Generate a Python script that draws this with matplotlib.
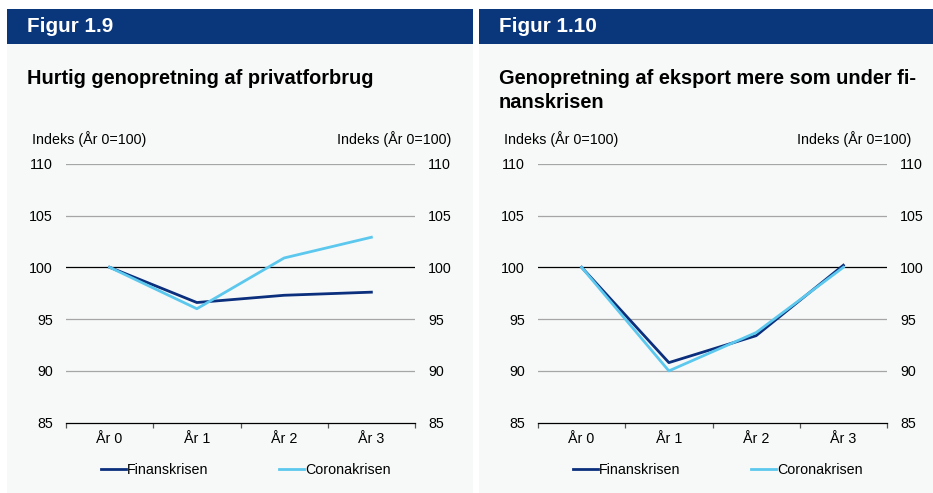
import matplotlib
matplotlib.use("Agg")
import matplotlib.pyplot as plt
from matplotlib.patches import Rectangle

plt.rcParams['font.family'] = ['Liberation Sans', 'DejaVu Sans']

W, H = 933, 493

# data
categories = ["År 0", "År 1", "År 2", "År 3"]
forbrug_finans = [100, 96.6, 97.3, 97.6]
forbrug_corona = [100, 96.0, 100.9, 102.9]
eksport_finans = [100, 90.8, 93.4, 100.2]
eksport_corona = [100, 90.0, 93.7, 100.0]
yticks = [85, 90, 95, 100, 105, 110]

DARK = "#0b2f7c"
LIGHT = "#5cc8ee"
HEADER = "#0a367c"
BG = "#f7f9f9"
GRID = "#a6a6a6"
FS = 10.3


def fx(px):
    return px / W


def fy(py):
    return 1 - py / H


fig = plt.figure(figsize=(W / 100, H / 100), dpi=100)
fig.patch.set_facecolor("white")


def panel(x0, x1, fignum, title_lines, finans, corona, ax_x0, ax_x1):
    # baggrund + blå overskriftsbjælke
    fig.patches.append(Rectangle((fx(x0), 0), fx(x1 - x0), fy(44), transform=fig.transFigure,
                                 facecolor=BG, edgecolor="none", zorder=-2))
    fig.patches.append(Rectangle((fx(x0), fy(44)), fx(x1 - x0), (44 - 9) / H, transform=fig.transFigure,
                                 facecolor=HEADER, edgecolor="none", zorder=-2))
    fig.text(fx(x0 + 20), fy(27), fignum, color="white", fontsize=14.9, fontweight="bold", va="center")
    for k, line in enumerate(title_lines):
        fig.text(fx(x0 + 20), fy(84 + 24 * k), line, color="black", fontsize=14.4,
                 fontweight="bold", va="baseline")
    fig.text(fx(x0 + 25), fy(139), "Indeks (År 0=100)", fontsize=FS, va="center")
    fig.text(fx(x1 - 22), fy(139), "Indeks (År 0=100)", fontsize=FS, va="center", ha="right")

    ax = fig.add_axes([fx(ax_x0), fy(422.7), fx(ax_x1 - ax_x0), (422.7 - 163.7) / H])
    ax.set_facecolor("none")
    x = range(len(categories))
    ax.plot(x, finans, color=DARK, lw=2.0, label="Finanskrisen", zorder=3)
    ax.plot(x, corona, color=LIGHT, lw=2.0, label="Coronakrisen", zorder=3)
    for v in yticks[1:]:
        ax.axhline(v, color="black" if v == 100 else GRID, lw=0.9, zorder=1)
    ax.set_ylim(85, 110)
    ax.set_xlim(-0.5, 3.5)
    ax.set_yticks(yticks)
    ax.set_xticks(list(x))
    ax.set_xticklabels(categories)
    ax.set_xticks([-0.5, 0.5, 1.5, 2.5, 3.5], minor=True)
    for s in ["top", "left", "right"]:
        ax.spines[s].set_visible(False)
    ax.spines["bottom"].set_color("black")
    ax.spines["bottom"].set_linewidth(0.9)
    ax.tick_params(axis="y", length=0, pad=9.5, labelsize=FS, labelleft=True, labelright=True)
    ax.tick_params(axis="x", which="major", length=0, pad=7, labelsize=FS)
    ax.tick_params(axis="x", which="minor", length=3.5, width=0.9, color="#555555")
    ax.legend(loc="center", bbox_to_anchor=(0.515, (422.7 - 470) / (422.7 - 163.7)), ncol=2,
              frameon=False, fontsize=FS, handlelength=1.8, handletextpad=0.05, columnspacing=4.9)
    return ax


panel(7, 473, "Figur 1.9", ["Hurtig genopretning af privatforbrug"],
      forbrug_finans, forbrug_corona, 66, 415)
panel(479, 933, "Figur 1.10", ["Genopretning af eksport mere som under fi-", "nanskrisen"],
      eksport_finans, eksport_corona, 538, 887)

fig.savefig("out.png", dpi=100, facecolor="white")
